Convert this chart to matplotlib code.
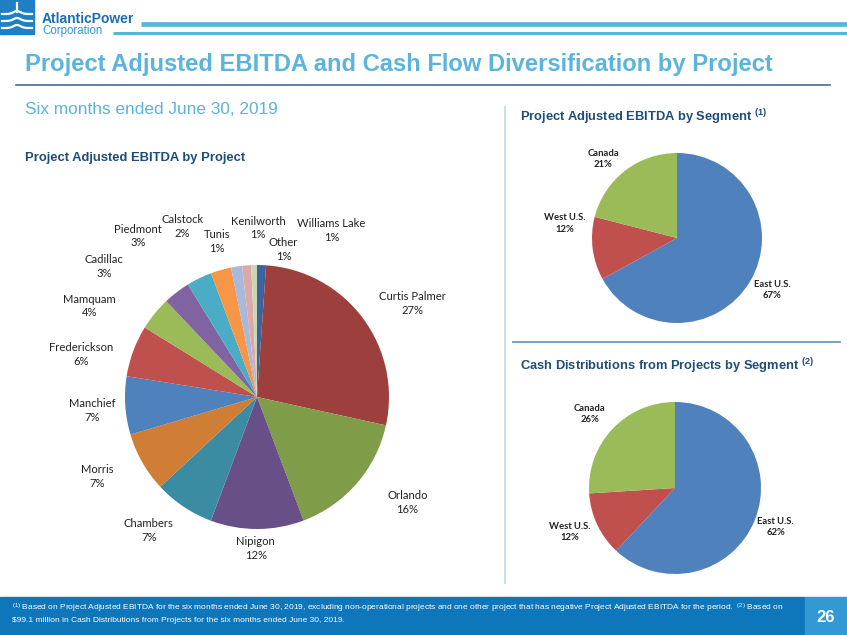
import numpy as np
import matplotlib.pyplot as plt
from matplotlib.patches import Rectangle

W, H = 847, 635

# big pie: shares, printed labels from the chart
projects = ["Williams Lake", "Curtis Palmer", "Orlando", "Nipigon", "Chambers", "Morris",
            "Manchief", "Frederickson", "Mamquam", "Cadillac", "Piedmont", "Calstock",
            "Tunis", "Kenilworth", "Other"]
project_share = [1.1, 27.3, 15.8, 11.4, 7.4, 7.3, 7.1, 6.3, 4.1, 3.3, 3.1, 2.5, 1.35, 1.1, 0.7]
project_label = ["1%", "27%", "16%", "12%", "7%", "7%", "7%", "6%", "4%", "3%", "3%", "2%",
                 "1%", "1%", "1%"]

segments = ["East U.S.", "West U.S.", "Canada"]
ebitda_seg = [67, 12, 21]
cash_seg = [62, 12, 26]

# styles / layout
proj_colors = ["#3A64A0", "#9D403D", "#7F9C49", "#694F88", "#3B8CA3", "#D07E36",
               "#4F81BD", "#C0504D", "#9BBB59", "#8064A2", "#4BACC6", "#F79646",
               "#A9B9DB", "#DDA9A8", "#C9D8B1"]
seg_colors = ["#4F81BD", "#C0504D", "#9BBB59"]
proj_lbl_pos = [(0.565, 1.26), (1.18, 0.71), (1.14, -0.80), (-0.01, -1.15), (-0.82, -1.01),
                (-1.21, -0.60), (-1.25, -0.10), (-1.33, 0.32), (-1.27, 0.69), (-1.16, 0.99),
                (-0.90, 1.22), (-0.565, 1.29), (-0.305, 1.18), (0.01, 1.28), (0.20, 1.12)]
ebitda_lbl_pos = [(1.12, -0.61), (-1.32, 0.17), (-0.87, 0.93)]
cash_lbl_pos = [(1.17, -0.45), (-1.22, -0.51), (-0.99, 0.86)]

NAVY = "#1D4D78"
LIGHT = "#5AB4DC"

plt.rcParams["font.family"] = ["Liberation Sans", "DejaVu Sans"]

fig = plt.figure(figsize=(W / 100, H / 100), dpi=100)

# page decoration in pixel coordinates
bg = fig.add_axes([0, 0, 1, 1])
bg.set_xlim(0, W)
bg.set_ylim(H, 0)
bg.axis("off")

# logo
bg.add_patch(Rectangle((0, 0), 34, 34, color="#1E7FC4"))
xs = np.linspace(2, 32, 40)
for yy in [14, 21, 28]:
    bg.plot(xs, yy - 3 * np.exp(-((xs - 17) / 5) ** 2), color="white", lw=1.6)
bg.plot([17, 17], [3, 12], color="white", lw=1.6)
bg.text(42, 19, "AtlanticPower", fontsize=10, fontweight="bold", color="#1A6DB4", va="center")
bg.text(42, 31, "Corporation", fontsize=8.3, color="#2B9AD6", va="center")
bg.plot([141, W], [23.5, 23.5], color=LIGHT, lw=3.4, solid_capstyle="butt")
bg.plot([113, W], [32.5, 32.5], color=LIGHT, lw=2.2, solid_capstyle="butt")

bg.text(25, 65, "Project Adjusted EBITDA and Cash Flow Diversification by Project",
        fontsize=17.1, fontweight="bold", color=LIGHT, va="center")
bg.plot([16, 830], [85, 85], color="#3D6E96", lw=1.2)

bg.text(25, 110, "Six months ended June 30, 2019", fontsize=12.4, color=LIGHT, va="center")
bg.text(25, 158, "Project Adjusted EBITDA by Project", fontsize=9.4, fontweight="bold",
        color=NAVY, va="center")
bg.text(520, 117, r"Project Adjusted EBITDA by Segment $\mathregular{^{(1)}}$", fontsize=9.3,
        fontweight="bold", color=NAVY, va="center")
bg.text(520, 366, r"Cash Distributions from Projects by Segment $\mathregular{^{(2)}}$",
        fontsize=9.3, fontweight="bold", color=NAVY, va="center")

bg.plot([505, 505], [107, 583], color="#BFDDF5", lw=1.3)
bg.plot([513, 840], [341.5, 341.5], color="#7197B5", lw=1.3)

# footer
bg.add_patch(Rectangle((0, 597), 805, 38, color="#0E76BA"))
bg.add_patch(Rectangle((805, 597), 42, 38, color="#3399D5"))
bg.text(12, 608.5, r"$\mathregular{^{(1)}}$ Based on Project Adjusted EBITDA for the six months ended "
        "June 30, 2019, excluding non-operational projects and one other project that has "
        r"negative Project Adjusted EBITDA for the period.  $\mathregular{^{(2)}}$ Based on",
        fontsize=6.0, color="white", va="center")
bg.text(12, 620, "$99.1 million in Cash Distributions from Projects for the six months ended June 30, 2019.",
        fontsize=6.0, color="white", va="center")
bg.text(826, 617, "26", fontsize=12, fontweight="bold", color="white", ha="center", va="center")


def pie_axes(cx, cy, r):
    ax = fig.add_axes([(cx - r) / W, 1 - (cy + r) / H, 2 * r / W, 2 * r / H])
    return ax


def draw_pie(ax, values, colors, names, pcts, positions, size, weight, family):
    ax.pie(values, colors=colors, startangle=90, counterclock=False, radius=1,
           wedgeprops=dict(linewidth=0))
    ax.set_xlim(-1, 1)
    ax.set_ylim(-1, 1)
    ax.set_aspect("auto")
    ax.axis("off")
    for name, pct, (x, y) in zip(names, pcts, positions):
        ax.text(x, y, f"{name}\n{pct}", ha="center", va="center", fontsize=size,
                fontweight=weight, family=family, color="#222222", clip_on=False,
                linespacing=1.3)


ax1 = pie_axes(257, 397, 132)
draw_pie(ax1, project_share, proj_colors, projects, project_label, proj_lbl_pos,
         8.1, "normal", ["Lato", "DejaVu Sans"])

ax2 = pie_axes(677, 238, 85)
draw_pie(ax2, ebitda_seg, seg_colors, segments, [f"{v}%" for v in ebitda_seg],
         ebitda_lbl_pos, 6.8, "bold", ["Lato", "DejaVu Sans"])

ax3 = pie_axes(675, 488, 86)
draw_pie(ax3, cash_seg, seg_colors, segments, [f"{v}%" for v in cash_seg],
         cash_lbl_pos, 6.8, "bold", ["Lato", "DejaVu Sans"])

fig.savefig("out.png", dpi=100)
